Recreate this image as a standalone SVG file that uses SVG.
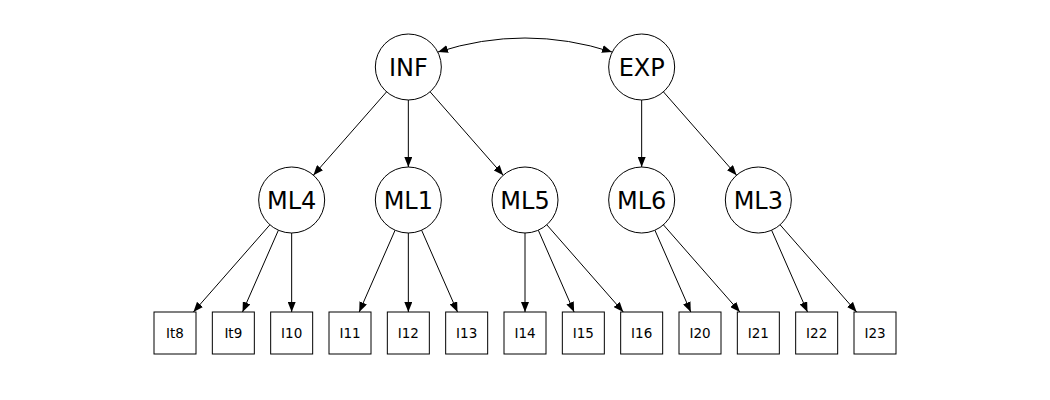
<svg xmlns="http://www.w3.org/2000/svg" width="1050" height="400" viewBox="0 0 1050 400">
<style>
.lat circle{fill:#fff;stroke:#000;stroke-width:1}
.lat text{font-family:"DejaVu Sans",sans-serif;font-size:24px;text-anchor:middle;fill:#000}
.obs rect{fill:#fff;stroke:#000;stroke-width:1}
.obs text{font-family:"DejaVu Sans",sans-serif;font-size:13.5px;text-anchor:middle;fill:#000}
#edges path{fill:none;stroke:#000;stroke-width:1;marker-end:url(#ah)}
#edges path.cov{marker-start:url(#ah)}
</style>
<defs>
<marker id="ah" markerUnits="userSpaceOnUse" markerWidth="10" markerHeight="8" refX="10" refY="4" orient="auto-start-reverse" viewBox="0 0 10 8">
<path d="M0,0 L10,4 L0,8 z" fill="#000"/>
</marker>
</defs>
<rect width="1050" height="400" fill="#fff"/>
<g id="edges">
<path class="cov" d="M438,52 Q525,24 612,52"/>
<path d="M386.6,91.8 L313.4,175.2"/>
<path d="M408.33,100 L408.33,167"/>
<path d="M430.1,91.8 L503.2,175.2"/>
<path d="M641.67,100 L641.67,167"/>
<path d="M663.4,91.8 L736.6,175.2"/>
<path d="M269.9,224.8 L193.4,312"/>
<path d="M278.4,230.2 L242.5,312"/>
<path d="M291.67,233 L291.67,312"/>
<path d="M395.1,230.2 L359.2,312"/>
<path d="M408.33,233 L408.33,312"/>
<path d="M421.6,230.2 L457.5,312"/>
<path d="M525,233 L525,312"/>
<path d="M538.3,230.2 L574.1,312"/>
<path d="M546.8,224.8 L623.3,312"/>
<path d="M654.9,230.2 L690.8,312"/>
<path d="M663.4,224.8 L739.9,312"/>
<path d="M771.6,230.2 L807.5,312"/>
<path d="M780.1,224.8 L856.6,312"/>
</g>
<g id="INF" class="lat"><circle cx="408.33" cy="67" r="33"/><text x="408.33" y="75.5">INF</text></g>
<g id="EXP" class="lat"><circle cx="641.67" cy="67" r="33"/><text x="641.67" y="75.5">EXP</text></g>
<g id="ML4" class="lat"><circle cx="291.67" cy="200" r="33"/><text x="291.67" y="208.5">ML4</text></g>
<g id="ML1" class="lat"><circle cx="408.33" cy="200" r="33"/><text x="408.33" y="208.5">ML1</text></g>
<g id="ML5" class="lat"><circle cx="525" cy="200" r="33"/><text x="525" y="208.5">ML5</text></g>
<g id="ML6" class="lat"><circle cx="641.67" cy="200" r="33"/><text x="641.67" y="208.5">ML6</text></g>
<g id="ML3" class="lat"><circle cx="758.33" cy="200" r="33"/><text x="758.33" y="208.5">ML3</text></g>
<g id="It8" class="obs"><rect x="154" y="312" width="42" height="42"/><text x="175" y="338">It8</text></g>
<g id="It9" class="obs"><rect x="212.33" y="312" width="42" height="42"/><text x="233.33" y="338">It9</text></g>
<g id="I10" class="obs"><rect x="270.67" y="312" width="42" height="42"/><text x="291.67" y="338">I10</text></g>
<g id="I11" class="obs"><rect x="329" y="312" width="42" height="42"/><text x="350" y="338">I11</text></g>
<g id="I12" class="obs"><rect x="387.33" y="312" width="42" height="42"/><text x="408.33" y="338">I12</text></g>
<g id="I13" class="obs"><rect x="445.67" y="312" width="42" height="42"/><text x="466.67" y="338">I13</text></g>
<g id="I14" class="obs"><rect x="504" y="312" width="42" height="42"/><text x="525" y="338">I14</text></g>
<g id="I15" class="obs"><rect x="562.33" y="312" width="42" height="42"/><text x="583.33" y="338">I15</text></g>
<g id="I16" class="obs"><rect x="620.67" y="312" width="42" height="42"/><text x="641.67" y="338">I16</text></g>
<g id="I20" class="obs"><rect x="679" y="312" width="42" height="42"/><text x="700" y="338">I20</text></g>
<g id="I21" class="obs"><rect x="737.33" y="312" width="42" height="42"/><text x="758.33" y="338">I21</text></g>
<g id="I22" class="obs"><rect x="795.67" y="312" width="42" height="42"/><text x="816.67" y="338">I22</text></g>
<g id="I23" class="obs"><rect x="854" y="312" width="42" height="42"/><text x="875" y="338">I23</text></g>
</svg>
